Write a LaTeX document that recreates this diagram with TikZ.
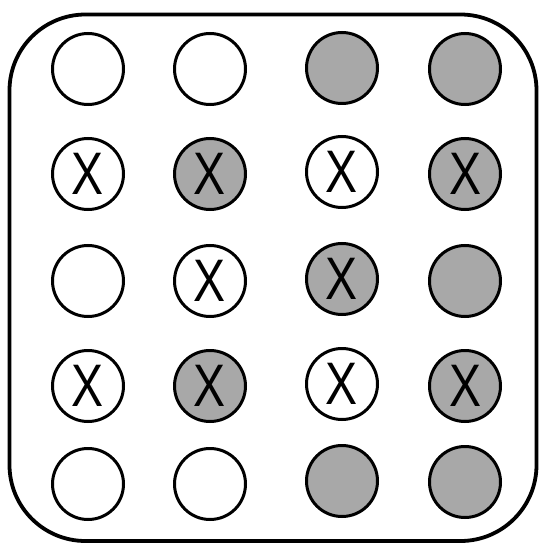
\documentclass[tikz,border=0pt]{standalone}
\usepackage{fontspec}
\setmainfont{Liberation Sans}
\definecolor{dotgray}{RGB}{168,168,168}
\begin{document}
\begin{tikzpicture}[x=1pt,y=-1pt,
  dot/.style={circle,draw=black,line width=3pt,minimum size=71pt,inner sep=0pt,
    font=\fontsize{60}{60}\selectfont},
  wdot/.style={dot,fill=white},
  gdot/.style={dot,fill=dotgray}]
\useasboundingbox (0,0) rectangle (540,545);
\draw[line width=3.8pt,rounded corners=76pt] (9.5,14.5) rectangle (536.5,541);
% row 1
\node[wdot] (a1) at (88,69) {};
\node[wdot] (b1) at (210,69) {};
\node[gdot] (c1) at (342,68) {};
\node[gdot] (d1) at (465,69) {};
% row 2
\node[wdot] (a2) at (88,174) {\scalebox{0.8}[1]{X}};
\node[gdot] (b2) at (210,174) {\scalebox{0.8}[1]{X}};
\node[wdot] (c2) at (342,172) {\scalebox{0.8}[1]{X}};
\node[gdot] (d2) at (465,174) {\scalebox{0.8}[1]{X}};
% row 3
\node[wdot] (a3) at (88,281) {};
\node[wdot] (b3) at (210,281) {\scalebox{0.8}[1]{X}};
\node[gdot] (c3) at (342,279) {\scalebox{0.8}[1]{X}};
\node[gdot] (d3) at (465,281) {};
% row 4
\node[wdot] (a4) at (88,386) {\scalebox{0.8}[1]{X}};
\node[gdot] (b4) at (210,386) {\scalebox{0.8}[1]{X}};
\node[wdot] (c4) at (342,384) {\scalebox{0.8}[1]{X}};
\node[gdot] (d4) at (465,386) {\scalebox{0.8}[1]{X}};
% row 5
\node[wdot] (a5) at (88,484) {};
\node[wdot] (b5) at (210,484) {};
\node[gdot] (c5) at (342,481) {};
\node[gdot] (d5) at (465,482) {};
\end{tikzpicture}
\end{document}
